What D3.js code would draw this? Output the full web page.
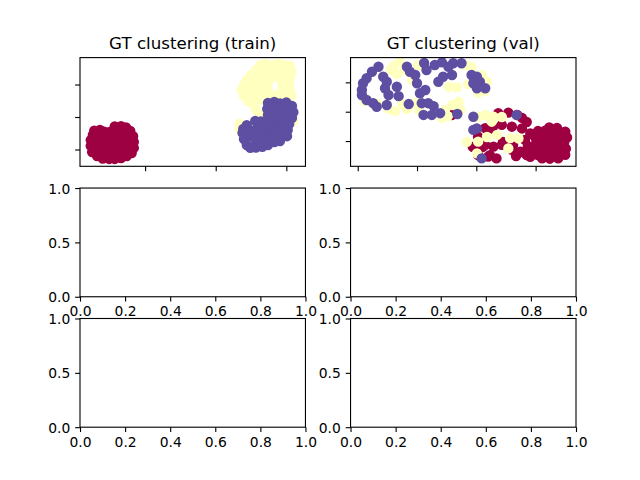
<!DOCTYPE html>
<html>
<head>
<meta charset="utf-8">
<script src="https://cdn.jsdelivr.net/npm/d3@7"></script>
<style>
  body { margin: 0; background: #fff; }
  svg { display: block; }
</style>
</head>
<body>
<svg id="chart" width="640" height="480"></svg>
<script>
// 2-D embedding of the train / val sets, [x, y, ground-truth label]
const trainPoints = [
  // label 0
  [-17.2,-4.2,0],[-16.4,-4.0,0],[-15.8,-4.5,0],[-14.3,-2.9,0],[-13.4,-2.8,0],[-12.7,-3.2,0],
  [-12.1,-4.3,0],[-11.7,-5.9,0],[-11.6,-7.7,0],[-11.6,-9.5,0],[-11.9,-11.1,0],[-12.6,-12.0,0],
  [-13.4,-12.6,0],[-14.3,-12.9,0],[-15.1,-12.9,0],[-16.0,-12.8,0],[-16.8,-12.0,0],[-17.5,-10.8,0],
  [-17.7,-8.9,0],[-17.7,-7.1,0],[-17.4,-5.5,0],
  [-15.0,-4.6,0],[-14.1,-4.6,0],[-13.3,-4.6,0],
  [-16.7,-6.2,0],[-15.8,-6.1,0],[-15.0,-6.2,0],[-14.1,-6.1,0],[-13.3,-6.2,0],[-12.4,-6.1,0],
  [-16.7,-8.0,0],[-15.8,-8.0,0],[-15.0,-8.1,0],[-14.1,-8.0,0],[-13.3,-7.9,0],[-12.4,-8.0,0],
  [-16.7,-9.8,0],[-15.8,-9.9,0],[-15.0,-9.8,0],[-14.1,-9.9,0],[-13.3,-9.8,0],[-12.4,-9.9,0],
  [-15.8,-11.4,0],[-15.0,-11.3,0],[-14.1,-11.4,0],[-13.3,-11.4,0],
  // label 1
  [6.3,16.0,1],[7.1,16.3,1],[8.0,15.9,1],[8.8,16.3,1],[9.7,16.0,1],[10.5,15.7,1],
  [10.7,13.9,1],[10.5,12.0,1],[10.4,10.2,1],[10.5,8.3,1],[10.7,6.5,1],
  [5.7,14.5,1],[5.0,12.9,1],[4.4,11.4,1],[4.0,9.9,1],[3.7,8.3,1],[4.0,6.5,1],
  [4.6,4.9,1],[5.3,4.0,1],[5.7,2.2,1],[6.3,0.9,1],
  [6.6,14.2,1],[7.4,14.1,1],[8.3,14.2,1],[9.1,14.1,1],[10.0,14.2,1],
  [5.3,12.3,1],[6.1,12.3,1],[7.0,12.4,1],[7.8,12.3,1],[8.7,12.3,1],[9.5,12.2,1],
  [4.9,10.5,1],[5.7,10.4,1],[6.6,10.5,1],[7.4,10.5,1],[9.4,10.4,1],
  [4.9,8.6,1],[5.7,8.7,1],[6.6,8.6,1],[7.4,8.6,1],[9.5,8.6,1],
  [4.9,6.8,1],[5.7,6.7,1],[6.6,6.8,1],[7.4,6.8,1],[8.4,6.7,1],[9.4,6.8,1],
  [5.4,5.2,1],[6.3,5.3,1],
  [3.4,-2.1,1],[3.4,-3.7,1],[11.0,-1.2,1],
  // label 2
  [7.4,4.3,2],[8.3,4.6,2],[9.1,4.2,2],[10.0,4.5,2],[10.8,3.4,2],[11.0,1.5,2],[10.8,-0.3,2],
  [7.3,2.5,2],[7.4,0.6,2],[5.6,-1.2,2],[6.4,-1.4,2],[4.4,-2.5,2],[3.9,-3.7,2],[3.8,-4.9,2],
  [4.0,-6.8,2],[4.4,-8.6,2],[4.9,-9.5,2],[5.7,-9.4,2],[6.6,-9.2,2],[7.4,-8.6,2],[8.3,-7.7,2],
  [9.1,-7.4,2],[10.1,-5.9,2],[10.2,-4.0,2],[10.4,-2.2,2],
  [8.3,2.8,2],[9.1,2.8,2],[10.0,2.8,2],
  [8.3,1.2,2],[9.1,1.2,2],[10.0,1.2,2],
  [8.3,-0.3,2],[9.1,-0.3,2],[10.0,-0.3,2],
  [6.1,-2.2,2],[7.0,-2.1,2],[7.8,-2.2,2],[8.7,-2.1,2],[9.5,-2.2,2],
  [4.7,-4.0,2],[5.6,-4.0,2],[6.4,-4.1,2],[7.3,-4.0,2],[8.1,-4.0,2],[9.0,-4.1,2],[9.7,-4.0,2],
  [4.7,-5.9,2],[5.6,-5.8,2],[6.4,-5.9,2],[7.3,-5.8,2],[8.1,-5.9,2],[9.0,-5.8,2],
  [5.7,-7.4,2],[6.6,-7.4,2],[7.4,-7.3,2]
];

const valPoints = [
  // label 0
  [-4.1,-1.1,0],[3.7,-0.5,0],[5.4,-0.3,0],[6.9,-1.1,0],[7.7,-2.1,0],[8.5,-3.5,0],
  [2.6,-5.7,0],[4.3,-4.5,0],[6.0,-5.1,0],[7.7,-5.7,0],[1.5,-5.6,0],[2.8,-5.2,0],
  [0.3,-8.5,0],[1.5,-11.3,0],[2.9,-11.9,0],[4.3,-11.3,0],[6.0,-13.0,0],[7.4,-13.6,0],
  [8.5,-14.8,0],[2.0,-15.3,0],[3.4,-15.9,0],[0.1,-12.5,0],[8.2,-9.6,0],[9.1,-7.4,0],
  [-0.6,-12.0,0],[1.1,-12.0,0],[4.5,-10.3,0],[6.2,-11.3,0],[0.3,-14.8,0],[2.3,-14.8,0],
  [8.7,-11.7,0],[7.7,-13.7,0],[9.1,-15.4,0],[6.7,-15.1,0],
  [12.3,-5.4,0],[13.6,-5.5,0],
  [10.4,-6.6,0],[11.6,-6.5,0],[12.8,-6.7,0],[13.9,-6.6,0],[15.0,-6.8,0],
  [9.9,-8.6,0],[11.1,-8.5,0],[12.3,-8.7,0],[13.4,-8.6,0],[14.6,-8.5,0],[15.3,-8.8,0],
  [10.1,-10.7,0],[11.2,-10.6,0],[12.4,-10.8,0],[13.6,-10.7,0],[14.8,-10.6,0],
  [9.7,-12.7,0],[10.9,-12.8,0],[12.1,-12.6,0],[13.3,-12.7,0],[14.4,-12.8,0],[15.1,-12.6,0],
  [10.4,-14.8,0],[11.6,-14.7,0],[12.8,-14.9,0],[13.9,-14.8,0],[15.0,-14.7,0],
  [11.1,-15.9,0],[12.4,-16.0,0],[13.8,-15.9,0],
  // label 1
  [-13.9,15.6,1],[-12.9,16.9,1],[-12.0,14.2,1],[-13.4,12.8,1],[-14.4,14.2,1],[-10.8,10.8,1],[-9.8,15.9,1],
  [-18.8,3.6,1],[-16.6,2.6,1],[-14.7,0.9,1],[-13.7,0.2,1],[-12.5,2.6,1],[-11.7,0.9,1],[-10.3,3.0,1],[-9.7,0.6,1],
  [-5.3,0.6,1],[-4.1,2.3,1],[-3.0,3.4,1],[-5.8,-2.2,1],[-4.8,-1.5,1],[-2.7,0.6,1],
  [-1.9,15.9,1],[-0.8,15.2,1],[0.9,12.5,1],[1.8,10.2,1],[1.5,7.1,1],[-1.4,9.4,1],[0.3,6.4,1],
  [-4.6,8.4,1],[-3.3,8.3,1],
  [0.3,-1.7,1],[1.5,-1.1,1],[2.9,-1.7,1],[4.3,-1.8,1],[2.6,-3.4,1],[1.8,-8.6,1],[0.3,-10.2,1],
  [5.7,-9.0,1],[3.5,-7.9,1],[7.1,-9.1,1],[5.4,-12.5,1],[0.1,-14.2,1],[-1.6,-10.3,1],
  // label 2
  [-16.5,15.3,2],[-17.6,13.6,2],[-18.5,11.4,2],[-19.1,9.7,2],[-19.3,7.4,2],[-19.3,5.7,2],[-18.5,4.0,2],
  [-17.4,2.9,2],[-16.8,1.7,2],[-15.1,2.3,2],[-15.4,8.0,2],[-15.7,11.9,2],[-15.1,10.2,2],[-14.8,5.7,2],
  [-13.4,8.5,2],[-13.1,5.3,2],[-11.4,2.6,2],[-11.7,15.3,2],[-11.2,13.6,2],[-10.3,12.5,2],[-10.0,9.7,2],
  [-8.8,16.6,2],[-8.4,14.2,2],[-7.0,15.9,2],[-5.8,16.8,2],[-4.7,15.3,2],[-3.9,16.5,2],[-2.5,16.5,2],
  [-4.1,12.5,2],[-5.6,11.9,2],[-6.4,10.2,2],[-8.6,7.4,2],[-9.5,6.3,2],[-9.2,2.9,2],[-8.1,2.9,2],
  [-7.2,1.9,2],[-8.9,-1.1,2],[-7.5,-1.1,2],[-6.1,-0.5,2],[-3.2,-0.8,2],
  [-0.8,12.5,2],[0.1,11.9,2],[0.6,10.2,2],[-0.5,9.7,2],[1.5,8.0,2],[0.1,8.0,2],
  [-0.5,-1.7,2],[-0.5,-6.2,2],[0.1,-5.7,2],[0.9,-15.9,2],[6.8,-1.1,2]
];

// axis limits and ticks
const trainXLim = [-19.22, 12.71], trainYLim = [-15.17, 18.28];
const valXLim = [-21.21, 16.81], valYLim = [-18.6, 18.43];
const trainXTicks = [-10, 0, 10], trainYTicks = [-10, 0, 10];
const valXTicks = [-20, -10, 0, 10], valYTicks = [-10, 0, 10];
const emptyXTicks = [0, 0.2, 0.4, 0.6, 0.8, 1.0];
const emptyYTicks = [0, 0.5, 1.0];
const titles = ["GT clustering (train)", "GT clustering (val)"];
const labelColors = ["#9e0142", "#ffffbf", "#5e4fa2"]; // Spectral at 0, .5, 1

// figure geometry (matplotlib defaults, dpi 100)
const W = 640, H = 480, pt = 100 / 72;
const sub = { left: 0.125, right: 0.9, bottom: 0.11, top: 0.88, wspace: 0.2, hspace: 0.2 };
const nRows = 3, nCols = 2;
const axW = (sub.right - sub.left) * W / (nCols + sub.wspace * (nCols - 1));
const axH = (sub.top - sub.bottom) * H / (nRows + sub.hspace * (nRows - 1));

function axBox(r, c) {
    return {
        x: sub.left * W + c * axW * (1 + sub.wspace),
        y: (1 - sub.top) * H + r * axH * (1 + sub.hspace),
        w: axW, h: axH
    };
}

const svg = d3.select("#chart");

function drawPanel(box, opts, id) {
    const g = svg.append("g").attr("transform", `translate(${box.x},${box.y})`);

    const x = d3.scaleLinear().domain(opts.xLim).range([0, box.w]);
    const y = d3.scaleLinear().domain(opts.yLim).range([box.h, 0]);

    if (opts.points) {
        g.append("clipPath").attr("id", id)
            .append("rect").attr("width", box.w).attr("height", box.h);

        g.append("g")
            .attr("clip-path", `url(#${id})`)
            .selectAll("circle")
            .data(opts.points)
            .join("circle")
            .attr("cx", d => x(d[0]))
            .attr("cy", d => y(d[1]))
            .attr("r", 3 * pt)
            .attr("fill", d => labelColors[d[2]])
            .attr("stroke", d => labelColors[d[2]])
            .attr("stroke-width", 1.5 * pt);
    }

    const fmt = opts.labels ? d3.format(".1f") : () => "";

    const xAxis = g.append("g")
        .attr("transform", `translate(0,${box.h})`)
        .call(d3.axisBottom(x).tickValues(opts.xTicks).tickSize(3.5 * pt).tickPadding(3.5 * pt).tickFormat(fmt));

    const yAxis = g.append("g")
        .call(d3.axisLeft(y).tickValues(opts.yTicks).tickSize(3.5 * pt).tickPadding(3.5 * pt).tickFormat(fmt));

    [xAxis, yAxis].forEach(a => {
        a.select(".domain").remove();
        a.attr("font-family", "'DejaVu Sans', sans-serif").attr("font-size", 10 * pt);
        a.selectAll("line").attr("stroke", "#000").attr("stroke-width", 0.8 * pt);
        a.selectAll("text").attr("fill", "#000");
    });
    yAxis.selectAll("text").attr("dy", "0.36em");

    // spines
    g.append("rect")
        .attr("width", box.w).attr("height", box.h)
        .attr("fill", "none").attr("stroke", "#000").attr("stroke-width", 0.8 * pt);

    if (opts.title) {
        g.append("text")
            .attr("x", box.w / 2)
            .attr("y", -6 * pt)
            .attr("text-anchor", "middle")
            .attr("font-family", "'DejaVu Sans', sans-serif")
            .attr("font-size", 12 * pt)
            .text(opts.title);
    }
}

drawPanel(axBox(0, 0), {
    points: trainPoints, xLim: trainXLim, yLim: trainYLim,
    xTicks: trainXTicks, yTicks: trainYTicks, labels: false, title: titles[0]
}, "clip-train");

drawPanel(axBox(0, 1), {
    points: valPoints, xLim: valXLim, yLim: valYLim,
    xTicks: valXTicks, yTicks: valYTicks, labels: false, title: titles[1]
}, "clip-val");

// empty subplots
for (let r = 1; r < nRows; r++) {
    for (let c = 0; c < nCols; c++) {
        drawPanel(axBox(r, c), {
            xLim: [0, 1], yLim: [0, 1],
            xTicks: emptyXTicks, yTicks: emptyYTicks, labels: true
        }, `clip-${r}-${c}`);
    }
}
</script>
</body>
</html>
